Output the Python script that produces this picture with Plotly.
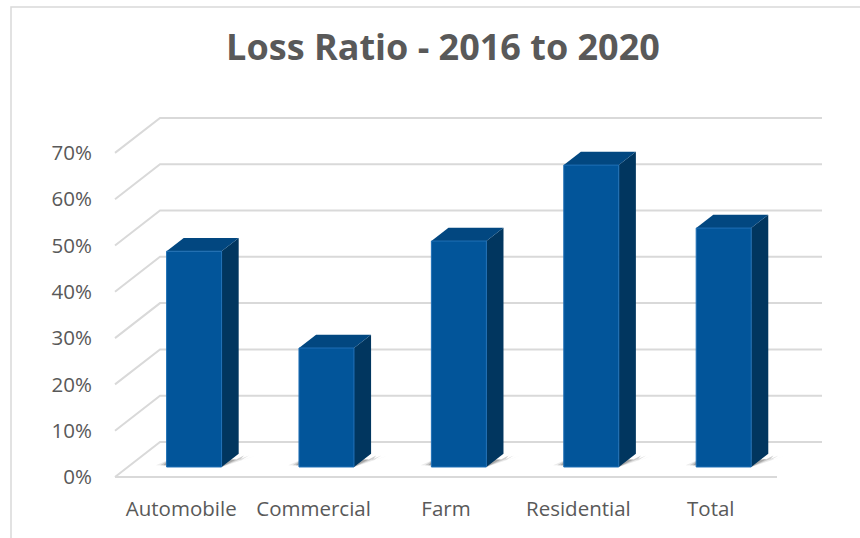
import plotly.graph_objects as go

# ---- data ----
categories = ["Automobile", "Commercial", "Farm", "Residential", "Total"]
loss_ratio = [0.466, 0.257, 0.488, 0.652, 0.516]
tick_values = [0.0, 0.1, 0.2, 0.3, 0.4, 0.5, 0.6, 0.7]
tick_labels = ["0%", "10%", "20%", "30%", "40%", "50%", "60%", "70%"]
title_text = "Loss Ratio - 2016 to 2020"

# ---- 3D projection parameters (axis units) ----
DX = 0.34      # horizontal shift of back wall (category units)
DY = 0.0756    # vertical shift of back wall (value units)
D0, D1 = 0.286, 0.666   # bar front/back depth fractions
HALF_W = 0.2077          # half bar width

FRONT = "#02559a"
SIDE = "#01365f"
TOP = "#024780"
GRID = "#d9d9d9"
TEXT = "#595959"

n = len(categories)
xl, xr = -0.5, n - 0.5

fig = go.Figure()

def line(xs, ys, color=GRID, width=2):
    fig.add_trace(go.Scatter(x=xs, y=ys, mode="lines", hoverinfo="skip",
                             line=dict(color=color, width=width), showlegend=False))

def poly(xs, ys, color, opacity=1.0, lw=0, lc=None):
    fig.add_trace(go.Scatter(x=xs + [xs[0]], y=ys + [ys[0]], mode="lines", fill="toself",
                             fillcolor=color, opacity=opacity, hoverinfo="skip",
                             line=dict(width=lw, color=lc or color), showlegend=False))

# gridlines: back wall + left side wall diagonals
for t in tick_values:
    line([xl, xl + DX, xr + DX], [t, t + DY, t + DY])
# floor front edge
line([xl, xr], [0, 0])

# bars
for i, v in enumerate(loss_ratio):
    fx0 = i - HALF_W + D0 * DX
    fx1 = i + HALF_W + D0 * DX
    fy0 = D0 * DY
    bx0 = i - HALF_W + D1 * DX
    bx1 = i + HALF_W + D1 * DX
    by0 = D1 * DY
    # floor shadow (soft)
    for k, op in [(1.0, 0.10), (0.6, 0.18), (0.3, 0.25)]:
        poly([fx0 - 0.08 * k, fx1, bx1 + 0.13 * k, bx1 + 0.05 * k, fx0 + 0.02],
             [fy0 + 0.004, fy0, by0 - 0.004, by0 - 0.012, fy0 + 0.016],
             "#3a3a3a", opacity=op)
    # side face
    poly([fx1, bx1, bx1, fx1], [fy0, by0, by0 + v, fy0 + v], SIDE)
    # top face
    poly([fx0, fx1, bx1, bx0], [fy0 + v, fy0 + v, by0 + v, by0 + v], TOP)
    # front face
    poly([fx0, fx1, fx1, fx0], [fy0, fy0, fy0 + v, fy0 + v], FRONT, lw=1, lc="#1f6fb5")

# pixel mapping: x unit = 132.4 px, front plane left edge at 115 px
XU, YU = 132.4, 463.0
ML, MB = 100, 44
W, H = 860, 538
x_range = [xl - (115 - ML) / XU, xl + (W - 115) / XU]
y_bottom = H - MB
y_range = [-(y_bottom - 477) / YU, 477 / YU]

fig.update_layout(
    width=W, height=H,
    margin=dict(l=ML, r=0, t=0, b=MB),
    paper_bgcolor="white", plot_bgcolor="white",
    showlegend=False,
    font=dict(family="Open Sans", color=TEXT),
    title=dict(text="<b>" + title_text + "</b>", x=443 / W, xanchor="center",
               y=1 - 47 / H, yanchor="middle",
               font=dict(family="Open Sans", size=36, color=TEXT)),
    xaxis=dict(range=x_range, tickvals=list(range(n)), ticktext=categories,
               showgrid=False, zeroline=False, showline=False, ticks="",
               tickfont=dict(size=20.5, color=TEXT), fixedrange=True),
    yaxis=dict(range=y_range, tickvals=tick_values, ticktext=tick_labels,
               showgrid=False, zeroline=False, showline=False, ticks="",
               ticklabelstandoff=7,
               tickfont=dict(size=20.5, color=TEXT), fixedrange=True),
    shapes=[dict(type="rect", xref="paper", yref="paper",
                 x0=(11 - ML) / (W - ML), x1=1.02, y0=-0.2, y1=(y_bottom - 7) / y_bottom,
                 line=dict(color="#d9d9d9", width=1.5), fillcolor="rgba(0,0,0,0)",
                 layer="below")],
)

fig.write_html("out.html")
